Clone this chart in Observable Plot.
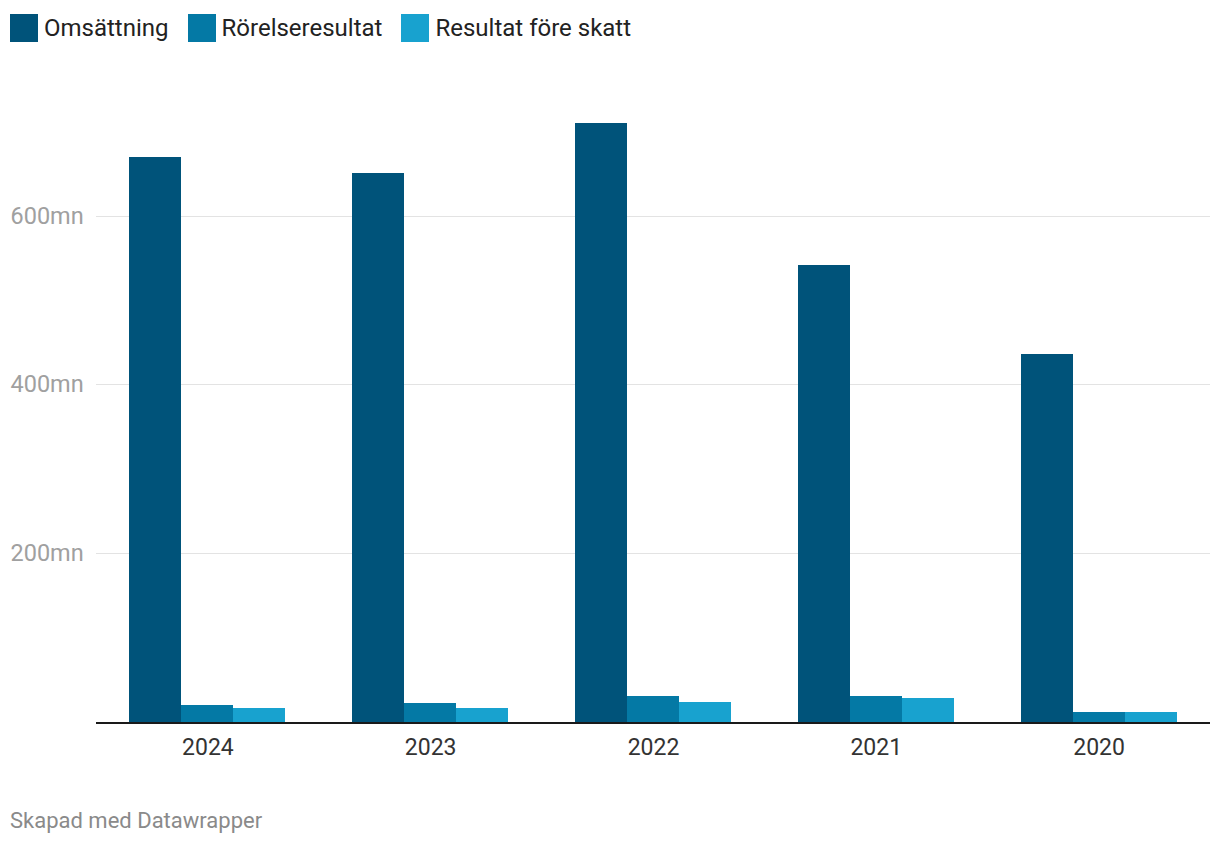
<!DOCTYPE html>
<html>
<head>
<meta charset="utf-8">
<script src="https://cdn.jsdelivr.net/npm/d3@7"></script>
<script src="https://cdn.jsdelivr.net/npm/@observablehq/plot@0.6"></script>
<style>
  html, body { margin: 0; padding: 0; background: #fff; }
  body { width: 1220px; height: 844px; position: relative; font-family: Roboto, sans-serif; }
  #legend { position: absolute; left: 10px; top: 14px; display: flex; gap: 19px; font-size: 24px; color: #222; }
  .item { display: flex; align-items: center; height: 28px; }
  .sw { width: 28px; height: 28px; margin-right: 6px; }
  #chart { position: absolute; left: 0; top: 60px; }
  #caption { position: absolute; left: 10px; top: 810px; font-size: 22px; line-height: 22px; color: #8a8a8a; }
</style>
</head>
<body>
<div id="legend"></div>
<div id="chart"></div>
<div id="caption">Skapad med Datawrapper</div>
<script>
const years = ["2024", "2023", "2022", "2021", "2020"];
const series = ["Omsättning", "Rörelseresultat", "Resultat före skatt"];
const omsattning = [670, 650, 710, 541, 436];
const rorelseresultat = [20, 22.5, 31, 31, 12];
const resultatForeSkatt = [16.5, 16.5, 24, 28.5, 12];
const colors = ["#00537a", "#0479a5", "#18a2cf"];
const yTicks = [200, 400, 600];

const valuesBySeries = [omsattning, rorelseresultat, resultatForeSkatt];
const data = [];
years.forEach((year, i) => {
  series.forEach((s, j) => {
    data.push({year, series: s, value: valuesBySeries[j][i]});
  });
});

// legend
const legend = document.getElementById("legend");
series.forEach((s, j) => {
  const item = document.createElement("div");
  item.className = "item";
  const sw = document.createElement("div");
  sw.className = "sw";
  sw.style.background = colors[j];
  const label = document.createElement("span");
  label.textContent = s;
  item.appendChild(sw);
  item.appendChild(label);
  legend.appendChild(item);
});

const chart = Plot.plot({
  width: 1220,
  height: 720,
  marginLeft: 96,
  marginRight: 10,
  marginTop: 54.4,
  marginBottom: 58,
  style: {fontFamily: "Roboto, sans-serif", fontSize: "23px", background: "#fff"},
  fx: {domain: years, padding: 0, round: false},
  x: {domain: series, paddingInner: 0, paddingOuter: 0.642, round: false, axis: null},
  y: {domain: [0, 720], nice: false},
  color: {domain: series, range: colors},
  marks: [
    Plot.gridY(yTicks, {stroke: "#e3e3e3", strokeOpacity: 1, strokeWidth: 1, shapeRendering: "crispEdges"}),
    Plot.axisY(yTicks, {
      tickSize: 0, tickPadding: 86, textAnchor: "start",
      tickFormat: d => d + "mn", fill: "#a0a0a0", fontSize: 23.5, label: null
    }),
    Plot.barY(data, {fx: "year", x: "series", y: "value", fill: "series", shapeRendering: "crispEdges"}),
    Plot.ruleY([0], {stroke: "#1a1a1a", strokeWidth: 2, shapeRendering: "crispEdges"}),
    Plot.axisFx({anchor: "bottom", tickSize: 0, tickPadding: 16, label: null, fontSize: 23, fill: "#333"})
  ]
});
document.getElementById("chart").appendChild(chart);
</script>
</body>
</html>
